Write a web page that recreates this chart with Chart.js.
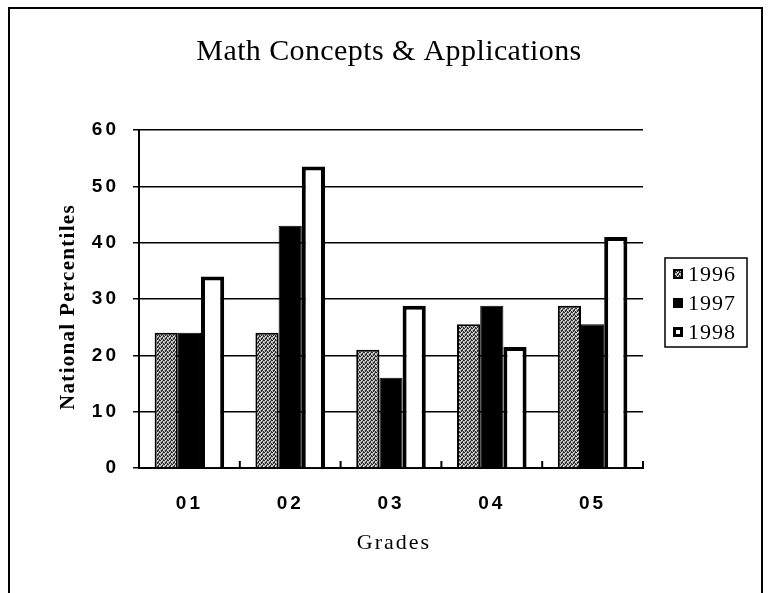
<!DOCTYPE html>
<html>
<head>
<meta charset="utf-8">
<script src="https://cdn.jsdelivr.net/npm/chart.js@4"></script>
<style>
  html, body { margin: 0; padding: 0; background: #fff; }
  #wrap { width: 768px; height: 593px; }
</style>
</head>
<body>
<div id="wrap"><canvas id="chart" width="768" height="593"></canvas></div>
<script>
const grades = ['01', '02', '03', '04', '05'];
const years = ['1996', '1997', '1998'];
const scores1996 = [24, 24, 21, 25.5, 28.8];
const scores1997 = [24, 43, 16, 28.8, 25.5];
const scores1998 = [34, 53.5, 28.8, 21.5, 41];
const yTicks = [0, 10, 20, 30, 40, 50, 60];

// stippled gray fill for 1996
function stipple() {
  const c = document.createElement('canvas');
  c.width = 4; c.height = 4;
  const g = c.getContext('2d');
  g.fillStyle = '#b4b4b4';
  g.fillRect(0, 0, 4, 4);
  g.fillStyle = '#2a2a2a';
  [[0, 0], [2, 1], [1, 2], [3, 3], [3, 0], [1, 3], [2, 2]].forEach(p => g.fillRect(p[0], p[1], 1, 1));
  g.fillStyle = '#eee';
  [[1, 0], [3, 2]].forEach(p => g.fillRect(p[0], p[1], 1, 1));
  return g.createPattern(c, 'repeat');
}

const serif = '"Liberation Serif", "Times New Roman", serif';
const sans = '"Liberation Sans", Arial, sans-serif';

// title, axis titles, legend, frame and inward x ticks
const decor = {
  id: 'decor',
  beforeDraw(chart) {
    chart.ctx.letterSpacing = '3px';
  },
  afterDraw(chart) {
    const ctx = chart.ctx;
    const area = chart.chartArea;
    const x = chart.scales.x;
    ctx.save();
    ctx.fillStyle = '#000';
    ctx.strokeStyle = '#000';

    // outer frame
    ctx.lineWidth = 2;
    ctx.beginPath();
    ctx.moveTo(9, 593);
    ctx.lineTo(9, 8);
    ctx.lineTo(762, 8);
    ctx.lineTo(762, 593);
    ctx.stroke();

    ctx.textAlign = 'center';
    ctx.textBaseline = 'alphabetic';
    ctx.letterSpacing = '0.4px';
    ctx.font = '30px ' + serif;
    ctx.fillText('Math Concepts & Applications', 389, 60);

    ctx.letterSpacing = '2px';
    ctx.font = '22px ' + serif;
    ctx.fillText('Grades', 394, 549);

    ctx.save();
    ctx.translate(74, 307);
    ctx.rotate(-Math.PI / 2);
    ctx.letterSpacing = '1.3px';
    ctx.font = 'bold 21px ' + serif;
    ctx.fillText('National Percentiles', 0, 0);
    ctx.restore();

    // small inward ticks between categories
    ctx.lineWidth = 2;
    for (let i = 0; i < grades.length; i++) {
      const right = i < grades.length - 1
        ? (x.getPixelForTick(i) + x.getPixelForTick(i + 1)) / 2
        : area.right;
      ctx.beginPath();
      ctx.moveTo(right, area.bottom);
      ctx.lineTo(right, area.bottom - 7);
      ctx.stroke();
    }

    // legend
    const lx = 665, ly = 258, lw = 82, lh = 89;
    ctx.lineWidth = 1.5;
    ctx.strokeRect(lx, ly, lw, lh);
    ctx.textAlign = 'left';
    ctx.textBaseline = 'middle';
    ctx.letterSpacing = '1px';
    ctx.font = '22px ' + serif;
    chart.data.datasets.forEach((ds, i) => {
      const cy = ly + 16 + i * 29;
      ctx.fillStyle = ds.backgroundColor;
      ctx.fillRect(lx + 8, cy - 5, 10, 10);
      const bw = ds.borderWidth > 2 ? 3 : 2;
      ctx.lineWidth = bw;
      ctx.strokeStyle = '#000';
      ctx.strokeRect(lx + 8 + bw / 2, cy - 5 + bw / 2, 10 - bw, 10 - bw);
      ctx.fillStyle = '#000';
      ctx.fillText(ds.label, lx + 23, cy + 1);
    });
    ctx.restore();
  }
};

new Chart(document.getElementById('chart'), {
  type: 'bar',
  data: {
    labels: grades,
    datasets: [
      {
        label: years[0],
        data: scores1996,
        backgroundColor: stipple(),
        borderColor: '#000',
        borderWidth: 2,
        categoryPercentage: 0.69,
        barPercentage: 1
      },
      {
        label: years[1],
        data: scores1997,
        backgroundColor: '#000',
        borderColor: '#000',
        borderWidth: 1,
        categoryPercentage: 0.69,
        barPercentage: 1
      },
      {
        label: years[2],
        data: scores1998,
        backgroundColor: '#fff',
        borderColor: '#000',
        borderWidth: 4,
        categoryPercentage: 0.69,
        barPercentage: 1
      }
    ]
  },
  options: {
    responsive: false,
    animation: false,
    layout: { padding: { left: 0, right: 125, top: 130, bottom: 0 } },
    plugins: {
      legend: { display: false },
      title: { display: false },
      tooltip: { enabled: false }
    },
    scales: {
      x: {
        grid: { display: false, drawTicks: false },
        border: { color: '#000', width: 2 },
        ticks: {
          color: '#000',
          font: { family: sans, size: 19, weight: 'bold' },
          padding: 24
        },
        afterFit: s => { s.height = 125; }
      },
      y: {
        min: 0,
        max: 60,
        afterBuildTicks: s => { s.ticks = yTicks.map(v => ({ value: v })); },
        grid: { color: '#000', lineWidth: 1.5, tickLength: 6 },
        border: { color: '#000', width: 2 },
        ticks: {
          color: '#000',
          font: { family: sans, size: 19, weight: 'bold' },
          padding: 14
        },
        afterFit: s => { s.width = 139; }
      }
    }
  },
  plugins: [decor]
});
</script>
</body>
</html>
